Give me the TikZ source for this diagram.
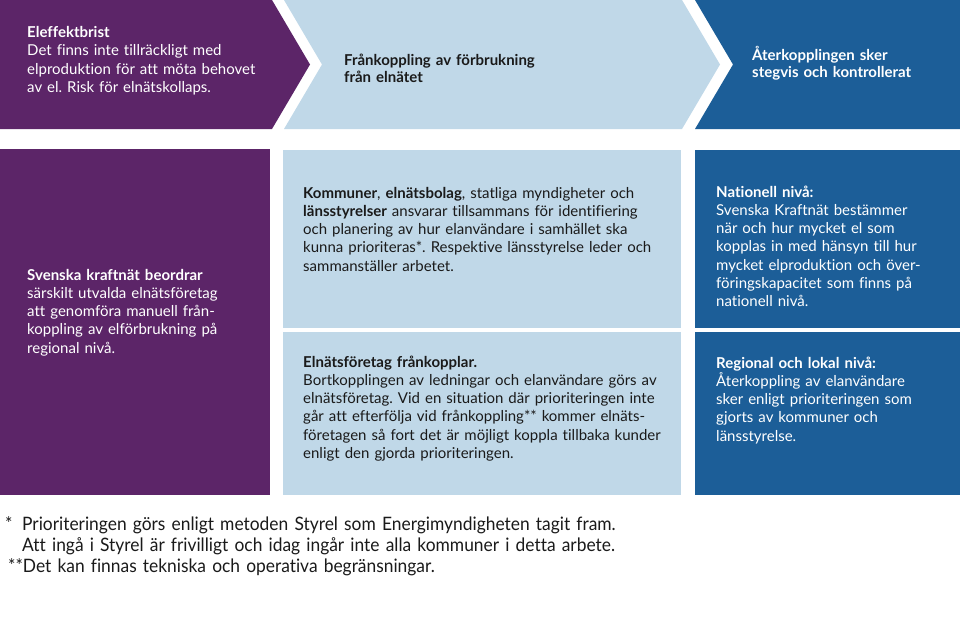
\documentclass[tikz,border=0pt]{standalone}
\usepackage{fontspec}
\setmainfont{Lato}[Ligatures=NoCommon]
\newfontfamily\notefont[FakeStretch=0.94,Ligatures=NoCommon]{Lato}
\frenchspacing
\definecolor{purp}{HTML}{5C2568}
\definecolor{lblue}{HTML}{C0D8E8}
\definecolor{dblue}{HTML}{1C5E98}
\definecolor{ink}{HTML}{1A1A1A}
\tikzset{
  txt/.style={anchor=base west, inner sep=0pt, align=left, text width=#1,
    font=\fontsize{15}{18.3}\selectfont},
  wtxt/.style={txt=#1, text=white},
  ktxt/.style={txt=#1, text=ink},
  head/.style={anchor=base west, inner sep=0pt, align=left, text width=#1,
    font=\bfseries\fontsize{15}{17}\selectfont},
  note/.style={anchor=base west, inner sep=0pt, align=left, text width=700pt,
    font=\notefont\fontsize{18.5}{21.5}\selectfont, text=ink}
}
\begin{document}
\frenchspacing
\begin{tikzpicture}[x=1pt,y=-1pt]
\useasboundingbox (0,0) rectangle (960,640);
\fill[white] (0,0) rectangle (960,640);
% chevrons
\fill[purp] (0,0) -- (272,0) -- (310,64.5) -- (272,129) -- (0,129) -- cycle;
\fill[lblue] (284,0) -- (682,0) -- (720,64.5) -- (682,129) -- (284,129) -- (322,64.5) -- cycle;
\fill[dblue] (695,0) -- (960,0) -- (960,129) -- (695,129) -- (733,64.5) -- cycle;
% boxes
\fill[purp] (0,149) rectangle (270,495);
\fill[lblue] (283,150) rectangle (681,328);
\fill[lblue] (283,332) rectangle (681,495);
\fill[dblue] (695,150) rectangle (960,328);
\fill[dblue] (695,332) rectangle (960,495);
% chevron texts
\node[wtxt=240pt] (t1) at (27,37.5) {\textbf{Eleffektbrist}\\Det finns inte tillräckligt med\\elproduktion för att möta behovet\\av el. Risk för elnätskollaps.};
\node[head=300pt, text=ink] (t2) at (344,65) {Frånkoppling av förbrukning\\från elnätet};
\node[head=220pt, text=white] (t3) at (752,60) {Återkopplingen sker\\stegvis och kontrollerat};
% left box
\node[wtxt=240pt] (b1) at (27,280) {\textbf{Svenska kraftnät beordrar}\\särskilt utvalda elnätsföretag\\att genomföra manuell från-\\koppling av elförbrukning på\\regional nivå.};
% middle boxes
\node[ktxt=370pt] (b2) at (303,198) {\textbf{Kommuner}, \textbf{elnätsbolag}, statliga myndigheter och\\\textbf{länsstyrelser} ansvarar tillsammans för identifiering\\och planering av hur elanvändare i samhället ska\\kunna prioriteras*. Respektive länsstyrelse leder och\\sammanställer arbetet.};
\node[ktxt=390pt] (b3) at (303,367) {\textbf{Elnätsföretag frånkopplar.}\\Bortkopplingen av ledningar och elanvändare görs av\\elnätsföretag. Vid en situation där prioriteringen inte\\går att efterfölja vid frånkoppling** kommer elnäts-\\företagen så fort det är möjligt koppla tillbaka kunder\\enligt den gjorda prioriteringen.};
% right boxes
\node[wtxt=240pt] (b4) at (716,197) {\textbf{Nationell nivå:}\\Svenska Kraftnät bestämmer\\när och hur mycket el som\\kopplas in med hänsyn till hur\\mycket elproduktion och över-\\föringskapacitet som finns på\\nationell nivå.};
\node[wtxt=240pt] (b5) at (716,368) {\textbf{Regional och lokal nivå:}\\Återkoppling av elanvändare\\sker enligt prioriteringen som\\gjorts av kommuner och\\länsstyrelse.};
% footnotes
\node[note, text width=20pt] (n0) at (5,530) {*};
\node[note] (n1) at (22,530) {Prioriteringen görs enligt metoden Styrel som Energimyndigheten tagit fram.\\Att ingå i Styrel är frivilligt och idag ingår inte alla kommuner i detta arbete.};
\node[note] (n2) at (8,572) {**Det kan finnas tekniska och operativa begränsningar.};
\end{tikzpicture}
\end{document}
